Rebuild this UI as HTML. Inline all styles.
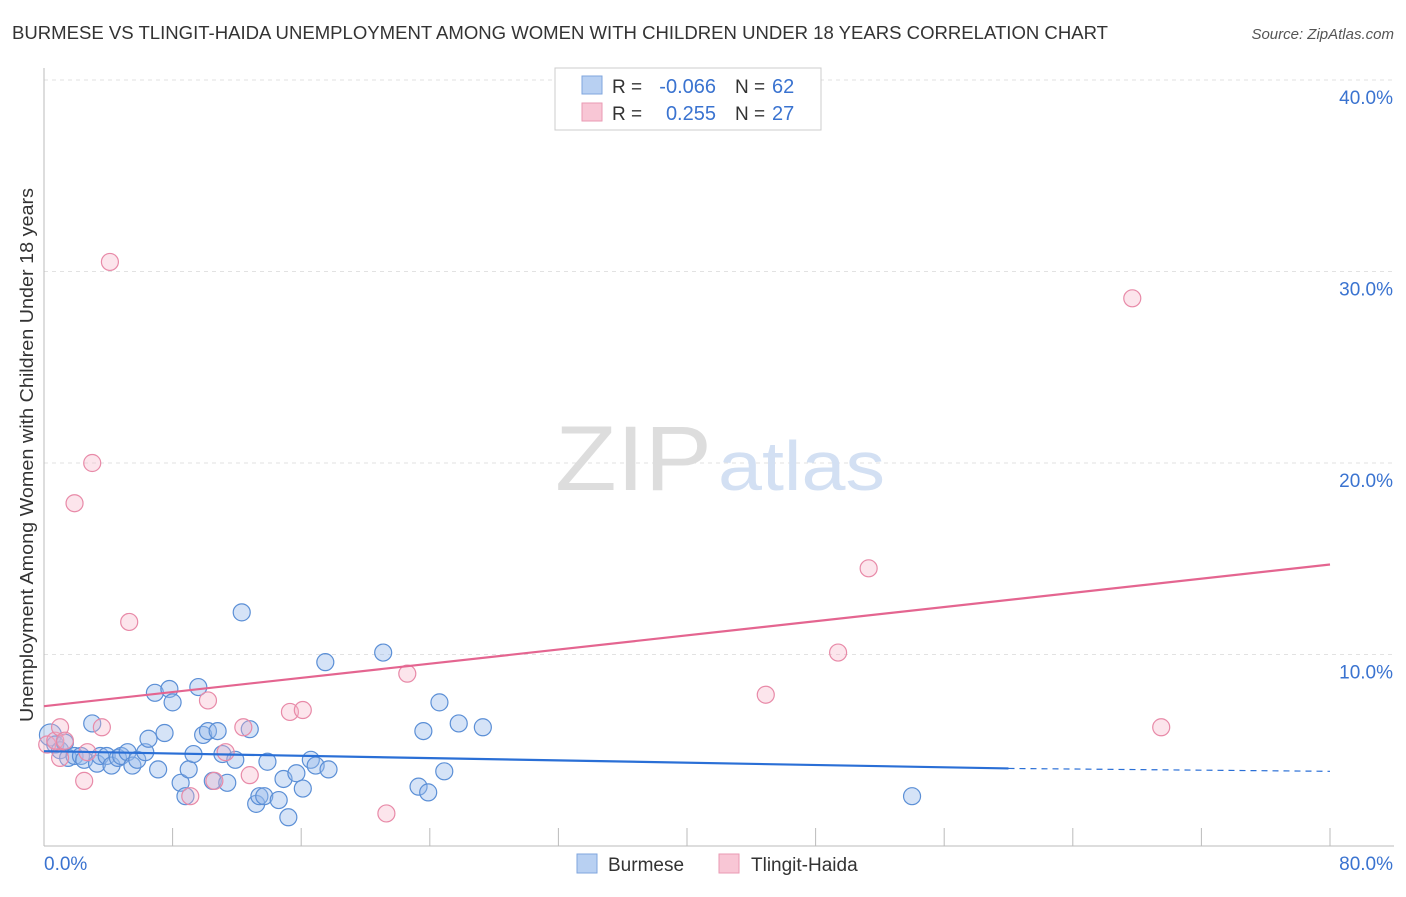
<!DOCTYPE html>
<html><head><meta charset="utf-8"><style>
body{margin:0;background:#fff;font-family:"Liberation Sans",sans-serif;}
svg text{font-family:"Liberation Sans",sans-serif;}
</style></head><body>
<svg id="chart" width="1406" height="892" xmlns="http://www.w3.org/2000/svg">
<text x="12" y="39" font-size="18" fill="#333" textLength="1096" lengthAdjust="spacingAndGlyphs">BURMESE VS TLINGIT-HAIDA UNEMPLOYMENT AMONG WOMEN WITH CHILDREN UNDER 18 YEARS CORRELATION CHART</text>
<text x="1394" y="39" font-size="15" fill="#555" font-style="italic" text-anchor="end">Source: ZipAtlas.com</text>
<g id="grid"></g>
<g><text x="555" y="490" font-size="92" fill="#ddd" font-family="Liberation Serif" textLength="157" lengthAdjust="spacingAndGlyphs">ZIP</text><text x="718" y="490" font-size="70" fill="#d3e0f3" textLength="167" lengthAdjust="spacingAndGlyphs">atlas</text></g>
<text transform="translate(33,455) rotate(-90)" font-size="18" fill="#333" text-anchor="middle" textLength="534" lengthAdjust="spacingAndGlyphs">Unemployment Among Women with Children Under 18 years</text>
<g id="marks"></g>
<g>
<rect x="555" y="68" width="266" height="62" fill="#fff" stroke="#ccc"/>
<rect x="582" y="76" width="20" height="18" fill="#b8d0f2" stroke="#7fa6de"/>
<rect x="582" y="103" width="20" height="18" fill="#f8c6d5" stroke="#ea9ab3"/>
<text x="612" y="93" font-size="19" fill="#333">R =</text>
<text x="716" y="93" font-size="20" fill="#3a73d0" text-anchor="end">-0.066</text>
<text x="735" y="93" font-size="19" fill="#333">N =</text>
<text x="772" y="93" font-size="20" fill="#3a73d0">62</text>
<text x="612" y="120" font-size="19" fill="#333">R =</text>
<text x="716" y="120" font-size="20" fill="#3a73d0" text-anchor="end">0.255</text>
<text x="735" y="120" font-size="19" fill="#333">N =</text>
<text x="772" y="120" font-size="20" fill="#3a73d0">27</text>
</g>
<g>
<rect x="577" y="854" width="20" height="19" fill="#b8d0f2" stroke="#7fa6de"/>
<text x="608" y="871" font-size="19" fill="#333">Burmese</text>
<rect x="719" y="854" width="20" height="19" fill="#f8c6d5" stroke="#ea9ab3"/>
<text x="751" y="871" font-size="19" fill="#333">Tlingit-Haida</text>
</g>
</svg>
<script>
const yTicks=[10,20,30,40];
const xTickLabels=["0.0%","80.0%"];
const burmeseX=[0.4,0.7,1.0,1.3,1.5,1.9,2.3,2.5,3.0,3.3,3.5,3.9,4.2,4.6,4.8,5.2,5.5,5.8,6.3,6.5,6.9,7.1,7.5,7.8,8.0,8.5,8.8,9.0,9.3,9.6,9.9,10.2,10.5,10.8,11.1,11.4,11.9,12.3,12.8,13.2,13.4,13.7,13.9,14.6,14.9,15.2,15.7,16.1,16.6,16.9,17.5,17.7,21.1,23.3,23.6,23.9,24.6,24.9,25.8,27.3,54.0];
const burmeseY=[5.8,5.3,5.0,5.4,4.6,4.7,4.7,4.5,6.4,4.3,4.7,4.7,4.2,4.6,4.7,4.9,4.2,4.5,4.9,5.6,8.0,4.0,5.9,8.2,7.5,3.3,2.6,4.0,4.8,8.3,5.8,6.0,3.4,6.0,4.8,3.3,4.5,12.2,6.1,2.2,2.6,2.6,4.4,2.4,3.5,1.5,3.8,3.0,4.5,4.2,9.6,4.0,10.1,3.1,6.0,2.8,7.5,3.9,6.4,6.2,2.6];
const tlingitX=[0.2,0.7,1.0,1.3,2.5,2.7,3.0,1.9,3.6,4.1,5.3,9.1,10.2,10.6,11.3,12.4,12.8,15.3,16.1,21.3,22.6,44.9,49.4,51.3,67.7,69.5,1.0];
const tlingitY=[5.3,5.5,6.2,5.5,3.4,4.9,20.0,17.9,6.2,30.5,11.7,2.6,7.6,3.4,4.9,6.2,3.7,7.0,7.1,1.7,9.0,7.9,10.1,14.5,28.6,6.2,4.6];
const blueTrend=[[0,4.95],[60,4.05],[80,3.9]];
const pinkTrend=[[0,7.3],[80,14.7]];
const X=v=>44+v*16.075, Y=v=>846-v*19.15;
const NS="http://www.w3.org/2000/svg";
const svg=document.getElementById('chart'),grid=document.getElementById('grid'),marks=document.getElementById('marks');
function mk(t,a,p){const e=document.createElementNS(NS,t);for(const k in a)e.setAttribute(k,a[k]);(p||svg).appendChild(e);return e;}
yTicks.forEach(t=>{
 const l=mk('line',{x1:44,x2:1394,y1:Y(t),y2:Y(t),stroke:'#e2e2e2','stroke-dasharray':'4,4'},grid);
 
 
 const tx=mk('text',{x:1393,y:Y(t)+24,'font-size':19,fill:'#3a73d0','text-anchor':'end'},grid);tx.textContent=t.toFixed(1)+'%';
 
 
});
mk('line',{x1:44,x2:44,y1:68,y2:846,stroke:'#bbb'},grid);
mk('line',{x1:44,x2:1394,y1:846,y2:846,stroke:'#bbb'},grid);
for(let i=0;i<=10;i++){const x=44+i*128.6;mk('line',{x1:x,x2:x,y1:828,y2:846,stroke:'#bbb'},grid);}
[[0,'start',44],[80,'end',1393]].forEach((d,i)=>{const t=mk('text',{x:d[2],y:870,'font-size':19,fill:'#3a73d0','text-anchor':d[1]},grid);t.textContent=xTickLabels[i];
 
 });
burmeseX.forEach((v,i)=>{const c=mk('circle',{cx:X(v),cy:Y(burmeseY[i]),r:i==0?11:8.5,fill:'rgba(150,185,235,0.4)',stroke:'#5b8fd6','stroke-width':1.2},marks);
 
 });
tlingitX.forEach((v,i)=>{const c=mk('circle',{cx:X(v),cy:Y(tlingitY[i]),r:8.5,fill:'rgba(245,180,200,0.35)',stroke:'#e88aa8','stroke-width':1.2},marks);
 
 });
const b1=mk('line',{x1:X(blueTrend[0][0]),y1:Y(blueTrend[0][1]),x2:X(blueTrend[1][0]),y2:Y(blueTrend[1][1]),stroke:'#2a6fd6','stroke-width':2.2},marks);


const b2=mk('line',{x1:X(blueTrend[1][0]),y1:Y(blueTrend[1][1]),x2:X(blueTrend[2][0]),y2:Y(blueTrend[2][1]),stroke:'#2a6fd6','stroke-width':1.2,'stroke-dasharray':'6,5'},marks);


const p1=mk('line',{x1:X(pinkTrend[0][0]),y1:Y(pinkTrend[0][1]),x2:X(pinkTrend[1][0]),y2:Y(pinkTrend[1][1]),stroke:'#e46590','stroke-width':2.2},marks);


</script>
</body></html>
